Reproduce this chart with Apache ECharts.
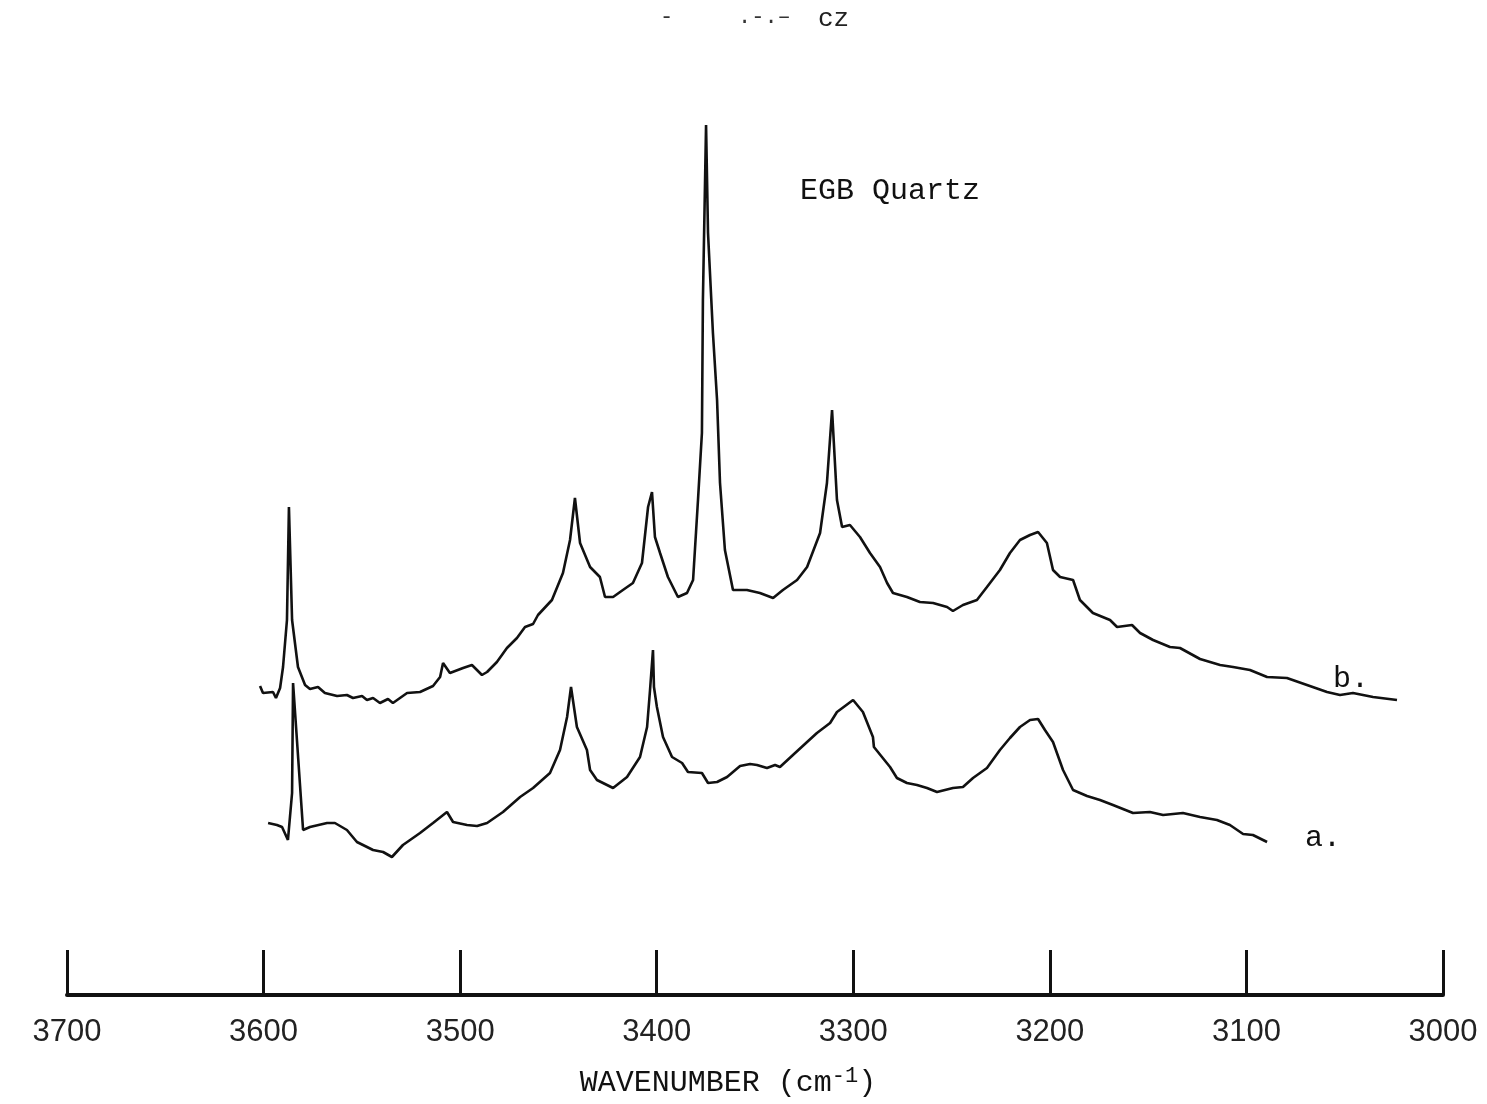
<!DOCTYPE html>
<html>
<head>
<meta charset="utf-8">
<title>EGB Quartz</title>
<script src="https://cdn.jsdelivr.net/npm/echarts@6/dist/echarts.min.js"></script>
<style>
    html, body { margin: 0; background: #fff; }
    #main { width: 1487px; height: 1104px; }
</style>
</head>
<body>
<div id="main"></div>
<script type="text/javascript">
    // trace b (upper), wavenumber (cm-1) and relative intensity
    var waveB = [3601.8,3600.3,3595.2,3593.7,3591.6,3590.1,3588.1,3587.1,3585.5,3582.5,
        3578.9,3576.4,3572.3,3568.8,3562.6,3557.6,3554.5,3549.9,3547.4,3544.3,
        3540.8,3536.7,3534.2,3527.0,3520.4,3513.8,3510.2,3508.7,3505.2,3498.5,
        3494.0,3488.9,3486.3,3481.3,3476.2,3471.1,3467.0,3462.9,3460.4,3453.3,
        3447.7,3444.1,3441.6,3439.0,3433.9,3428.9,3426.3,3422.2,3417.2,3412.1,
        3407.5,3404.4,3402.4,3400.9,3398.3,3394.3,3389.2,3384.6,3381.5,3379.0,
        3377.0,3376.5,3374.9,3373.9,3371.4,3369.3,3367.8,3365.3,3361.2,3354.1,
        3347.5,3340.8,3335.8,3328.6,3323.5,3316.9,3313.4,3310.8,3308.3,3305.7,
        3301.7,3296.6,3291.5,3286.4,3282.8,3279.8,3272.7,3266.1,3259.4,3252.3,
        3249.3,3244.2,3237.1,3232.0,3225.4,3220.3,3215.2,3210.1,3206.0,3201.5,
        3198.4,3194.8,3188.2,3184.7,3178.1,3169.4,3165.8,3158.2,3154.1,3147.5,
        3138.9,3133.8,3123.6,3113.4,3106.8,3098.2,3089.5,3079.4,3069.2,3059.0,
        3052.4,3045.8,3035.6,3023.4];
    var intB = [309,302,303,297,307,328,375,488,375,328,
        310,306,308,302,299,300,297,299,295,297,
        292,296,292,302,303,309,318,332,322,327,
        330,320,323,333,347,357,368,371,380,395,
        422,455,497,452,428,418,398,398,405,412,
        432,488,503,458,442,418,398,402,415,495,
        562,695,870,762,662,595,512,445,405,405,
        402,397,405,415,428,462,512,585,495,468,
        470,458,442,428,412,402,398,393,392,388,
        384,390,395,408,425,442,455,460,463,452,
        425,418,415,395,382,375,368,370,362,355,
        348,347,336,330,328,325,318,317,310,303,
        300,302,298,295];

    // trace a (lower)
    var waveA = [3597.7,3593.2,3590.6,3587.6,3585.5,3585.0,3579.9,3576.4,3567.7,3563.7,
        3557.6,3552.5,3544.3,3539.2,3534.7,3529.1,3520.4,3513.8,3506.7,3503.6,
        3496.5,3491.4,3486.3,3478.2,3469.5,3462.9,3454.3,3449.2,3445.6,3443.6,
        3440.6,3435.5,3433.9,3430.4,3422.2,3415.1,3408.5,3404.9,3403.4,3401.9,
        3401.4,3399.9,3396.8,3392.2,3387.1,3384.1,3377.0,3373.9,3369.3,3364.2,
        3357.6,3352.5,3349.0,3343.9,3339.8,3337.3,3330.7,3323.5,3318.5,3311.8,
        3308.3,3300.1,3295.1,3290.0,3289.5,3281.3,3277.8,3272.7,3267.6,3262.5,
        3257.4,3249.3,3244.2,3239.1,3232.0,3225.4,3220.3,3215.2,3210.1,3206.0,
        3202.5,3198.4,3193.3,3188.2,3181.1,3174.5,3167.9,3157.7,3149.1,3142.4,
        3132.3,3123.6,3115.0,3108.4,3101.7,3096.7,3089.5];
    var intA = [172,170,168,155,202,312,165,168,172,172,
        165,153,145,143,138,150,162,172,183,173,
        170,169,172,183,198,207,222,245,278,308,
        268,245,225,215,207,218,238,268,305,345,
        308,288,258,238,232,223,222,212,213,218,
        229,231,230,227,230,228,240,253,262,272,
        283,295,283,258,248,228,217,212,210,207,
        203,207,208,217,227,245,257,268,275,276,
        265,253,225,205,199,195,190,182,183,180,
        182,178,175,170,161,160,153];

    function pairs(w, v) {
        return w.map(function (x, i) { return [x, v[i]]; });
    }

    var myChart = echarts.init(document.getElementById('main'));
    var mono = "'Liberation Mono', 'DejaVu Sans Mono', monospace";

    var option = {
        backgroundColor: '#fff',
        animation: false,
        grid: { left: 67, right: 44, top: 95, bottom: 109 },
        xAxis: {
            type: 'value',
            min: 3000,
            max: 3700,
            interval: 100,
            inverse: true,
            splitLine: { show: false },
            axisLine: { lineStyle: { color: '#111', width: 4 } },
            axisTick: { inside: true, length: 45, lineStyle: { color: '#111', width: 3 } },
            axisLabel: {
                margin: 22,
                color: '#222',
                fontSize: 31,
                fontFamily: "'Liberation Sans', sans-serif",
                showMinLabel: true,
                showMaxLabel: true,
                formatter: function (v) { return String(v); }
            },
            name: 'WAVENUMBER (cm{sup|-1})',
            nameLocation: 'middle',
            nameGap: 70,
            nameTextStyle: {
                color: '#111',
                fontSize: 30,
                fontFamily: mono,
                padding: [0, 54, 0, 0],
                rich: {
                    sup: { fontSize: 22, fontFamily: mono, color: '#111', verticalAlign: 'top', padding: [0, 0, 14, 0] }
                }
            }
        },
        yAxis: {
            type: 'value',
            min: 0,
            max: 900,
            show: false
        },
        graphic: [
            { type: 'text', left: 800, top: 176, style: { text: 'EGB Quartz', font: '30px ' + mono, fill: '#111' } },
            { type: 'text', left: 1333, top: 664, style: { text: 'b.', font: '30px ' + mono, fill: '#111' } },
            { type: 'text', left: 1305, top: 823, style: { text: 'a.', font: '30px ' + mono, fill: '#111' } },
            { type: 'text', left: 660, top: 6, style: { text: '-', font: '22px ' + mono, fill: '#333' } },
            { type: 'text', left: 738, top: 6, style: { text: '.-.–', font: '22px ' + mono, fill: '#333' } },
            { type: 'text', left: 818, top: 6, style: { text: 'cz', font: '26px ' + mono, fill: '#222' } }
        ],
        series: [
            {
                name: 'b',
                type: 'line',
                data: pairs(waveB, intB),
                showSymbol: false,
                smooth: false,
                lineStyle: { color: '#111', width: 2.6 }
            },
            {
                name: 'a',
                type: 'line',
                data: pairs(waveA, intA),
                showSymbol: false,
                smooth: false,
                lineStyle: { color: '#111', width: 2.6 }
            }
        ]
    };
    myChart.setOption(option);
</script>
</body>
</html>
